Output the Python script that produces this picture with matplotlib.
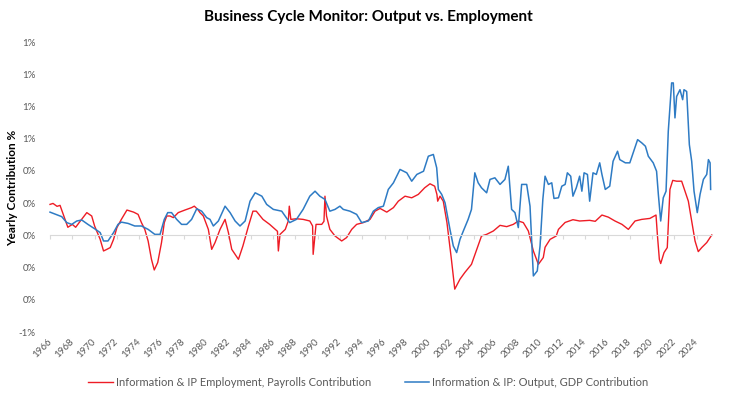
import matplotlib
matplotlib.use('Agg')
import matplotlib.pyplot as plt
import numpy as np

# Information & IP Employment, Payrolls Contribution (%)
emp_year = [1966.0, 1966.27, 1966.63, 1966.9, 1967.35, 1967.6, 1968.0, 1968.3, 1968.7, 1969.3,
            1969.74, 1970.0, 1970.5, 1970.8, 1971.1, 1971.4, 1971.7, 1972.0, 1972.4, 1972.9,
            1973.5, 1973.9, 1974.2, 1974.5, 1974.8, 1975.1, 1975.35, 1975.66, 1976.0, 1976.25,
            1976.47, 1976.76, 1977.06, 1977.5, 1978.1, 1978.7, 1978.94, 1979.25, 1979.45, 1979.75,
            1980.2, 1980.5, 1980.8, 1981.25, 1981.7, 1982.0, 1982.3, 1982.9, 1983.3, 1983.8,
            1984.2, 1984.5, 1985.1, 1985.7, 1986.2, 1986.4, 1986.48, 1986.63, 1987.1, 1987.37,
            1987.46, 1987.6, 1988.1, 1988.7, 1989.3, 1989.55, 1989.6, 1989.86, 1990.37, 1990.57,
            1990.66, 1990.8, 1991.1, 1991.56, 1992.16, 1992.6, 1993.06, 1993.5, 1994.1, 1994.7,
            1995.15, 1995.6, 1996.2, 1996.8, 1997.24, 1997.84, 1998.44, 1999.03, 1999.6, 2000.08,
            2000.5, 2000.7, 2000.77, 2000.98, 2001.27, 2001.6, 2002.0, 2002.3, 2002.77, 2003.2,
            2003.8, 2004.27, 2004.7, 2005.16, 2005.76, 2006.36, 2006.96, 2007.55, 2008.0, 2008.45,
            2008.9, 2009.35, 2009.8, 2010.24, 2010.4, 2010.85, 2011.4, 2011.6, 2012.2, 2012.9,
            2013.5, 2014.4, 2014.9, 2015.5, 2016.07, 2016.67, 2017.3, 2017.87, 2018.47, 2019.07,
            2019.8, 2020.35, 2020.47, 2020.65, 2020.77, 2021.07, 2021.36, 2021.6, 2021.85, 2022.2,
            2022.65, 2022.95, 2023.25, 2023.55, 2023.85, 2024.14, 2024.45, 2024.9, 2025.35]
emp_val = [0.192, 0.198, 0.18, 0.186, 0.099, 0.05, 0.068, 0.05, 0.087, 0.141,
           0.12, 0.058, -0.025, -0.097, -0.087, -0.076, -0.025, 0.048, 0.099, 0.157,
           0.144, 0.13, 0.079, 0.037, -0.035, -0.149, -0.215, -0.169, -0.045, 0.079,
           0.12, 0.12, 0.11, 0.141, 0.157, 0.172, 0.181, 0.161, 0.141, 0.12,
           0.037, -0.087, -0.045, 0.037, 0.099, 0.017, -0.087, -0.149, -0.066, 0.058,
           0.15, 0.15, 0.099, 0.068, 0.037, 0.025, -0.097, 0.006, 0.037, 0.089,
           0.181, 0.099, 0.103, 0.099, 0.089, 0.058, -0.118, 0.068, 0.068, 0.087,
           0.243, 0.12, 0.037, -0.004, -0.035, -0.014, 0.037, 0.068, 0.079, 0.099,
           0.15, 0.167, 0.144, 0.172, 0.212, 0.243, 0.233, 0.254, 0.295, 0.32,
           0.305, 0.254, 0.212, 0.243, 0.212, 0.079, -0.149, -0.334, -0.272, -0.231,
           -0.18, -0.087, -0.004, 0.006, 0.027, 0.062, 0.054, 0.068, 0.089, 0.079,
           0.027, -0.097, -0.18, -0.138, -0.074, -0.025, -0.004, 0.037, 0.08, 0.097,
           0.089, 0.093, 0.087, 0.126, 0.113, 0.089, 0.068, 0.037, 0.089, 0.099,
           0.105, 0.126, 0.006, -0.149, -0.175, -0.107, -0.076, 0.285, 0.341, 0.336,
           0.336, 0.274, 0.212, 0.089, -0.035, -0.101, -0.076, -0.045, 0.002]

# Information & IP: Output, GDP Contribution (%)
gdp_year = [1966.0, 1967.05, 1967.5, 1967.95, 1968.4, 1968.85, 1969.4, 1970.0, 1970.5, 1970.8,
            1971.2, 1971.7, 1972.1, 1972.4, 1973.0, 1973.6, 1974.2, 1974.8, 1975.4, 1975.87,
            1976.25, 1976.56, 1976.9, 1977.36, 1977.8, 1978.26, 1978.7, 1979.16, 1979.6, 1980.05,
            1980.35, 1980.65, 1981.1, 1981.7, 1982.15, 1982.6, 1983.04, 1983.5, 1983.94, 1984.4,
            1985.0, 1985.43, 1986.03, 1986.78, 1987.08, 1987.5, 1988.1, 1988.7, 1989.3, 1989.77,
            1990.2, 1990.66, 1991.1, 1991.56, 1992.0, 1992.3, 1992.9, 1993.5, 1993.95, 1994.55,
            1995.0, 1995.44, 1995.9, 1996.34, 1996.8, 1997.39, 1998.0, 1998.44, 1998.9, 1999.5,
            1999.93, 2000.38, 2000.68, 2000.83, 2001.13, 2001.43, 2001.87, 2002.17, 2002.47, 2002.77,
            2003.07, 2003.5, 2003.8, 2004.1, 2004.4, 2004.7, 2005.16, 2005.46, 2005.9, 2006.36,
            2006.8, 2007.1, 2007.4, 2007.7, 2008.0, 2008.3, 2008.75, 2009.05, 2009.35, 2009.7,
            2009.95, 2010.2, 2010.4, 2010.7, 2011.0, 2011.2, 2011.6, 2011.9, 2012.2, 2012.4,
            2012.7, 2012.9, 2013.2, 2013.5, 2013.7, 2013.9, 2014.2, 2014.4, 2014.7, 2015.0,
            2015.3, 2015.5, 2015.8, 2016.2, 2016.5, 2016.9, 2017.1, 2017.6, 2018.0, 2018.3,
            2018.7, 2019.07, 2019.4, 2019.66, 2020.1, 2020.4, 2020.56, 2020.77, 2021.0, 2021.25,
            2021.45, 2021.75, 2021.9, 2022.05, 2022.2, 2022.5, 2022.74, 2022.86, 2023.1, 2023.34,
            2023.55, 2023.76, 2024.05, 2024.3, 2024.6, 2024.9, 2025.05, 2025.2, 2025.25]
gdp_val = [0.144, 0.116, 0.079, 0.068, 0.089, 0.095, 0.068, 0.041, 0.017, -0.035,
           -0.035, 0.017, 0.068, 0.082, 0.074, 0.058, 0.058, 0.037, 0.006, 0.006,
           0.099, 0.141, 0.141, 0.099, 0.068, 0.068, 0.099, 0.165, 0.15, 0.11,
           0.099, 0.058, 0.089, 0.181, 0.141, 0.089, 0.058, 0.089, 0.212, 0.264,
           0.243, 0.192, 0.161, 0.15, 0.12, 0.079, 0.099, 0.161, 0.243, 0.274,
           0.243, 0.223, 0.15, 0.161, 0.181, 0.161, 0.15, 0.13, 0.079, 0.089,
           0.15, 0.172, 0.181, 0.285, 0.326, 0.409, 0.388, 0.336, 0.378, 0.398,
           0.491, 0.502, 0.419, 0.285, 0.254, 0.202, 0.037, -0.066, -0.107, -0.025,
           0.027, 0.099, 0.161, 0.388, 0.326, 0.295, 0.264, 0.347, 0.357, 0.316,
           0.347, 0.429, 0.161, 0.141, 0.048, 0.316, 0.316, 0.181, -0.252, -0.221,
           -0.066, 0.223, 0.367, 0.316, 0.326, 0.229, 0.233, 0.305, 0.316, 0.388,
           0.367, 0.243, 0.295, 0.367, 0.274, 0.388, 0.378, 0.212, 0.388, 0.378,
           0.45, 0.378, 0.285, 0.305, 0.46, 0.522, 0.47, 0.45, 0.45, 0.512,
           0.594, 0.574, 0.553, 0.491, 0.45, 0.398, 0.254, 0.089, 0.233, 0.274,
           0.646, 0.946, 0.946, 0.729, 0.862, 0.904, 0.842, 0.904, 0.893, 0.563,
           0.46, 0.274, 0.141, 0.254, 0.347, 0.378, 0.47, 0.45, 0.285]

year_ticks = list(range(1966, 2025, 2))
y_ticks = [-0.6, -0.4, -0.2, 0.0, 0.2, 0.4, 0.6, 0.8, 1.0, 1.2]
y_tick_labels = ['-1%', '0%', '0%', '0%', '0%', '0%', '1%', '1%', '1%', '1%']

plt.rcParams['font.family'] = ['Lato', 'DejaVu Sans']
grey = '#595959'

fig = plt.figure(figsize=(7.37, 3.99), dpi=100)
ax = fig.add_axes([48 / 737, 1 - 332 / 399, 666 / 737, 290 / 399])

ax.plot(emp_year, emp_val, color='#EE1C25', lw=1.0,
        label='Information & IP Employment, Payrolls Contribution')
ax.plot(gdp_year, gdp_val, color='#2E7BC4', lw=1.1,
        label='Information & IP: Output, GDP Contribution')

ax.set_xlim(1965.82, 1965.82 + 666 / 11.15)
ax.set_ylim(-0.6, 1.2)
ax.set_yticks(y_ticks)
ax.set_yticklabels(y_tick_labels)
ax.tick_params(axis='y', length=0, labelsize=7, labelcolor=grey, pad=9)

for s in ['top', 'right', 'left']:
    ax.spines[s].set_visible(False)
# zero line with year tick marks
ax.spines['bottom'].set_position(('data', 0))
ax.spines['bottom'].set_color('#D9D9D9')
ax.spines['bottom'].set_bounds(1966, 2025.35)
ax.set_xticks(year_ticks)
ax.tick_params(axis='x', length=3, color='#D9D9D9', labelbottom=False)

# year labels at the bottom of the plot area
sec = ax.secondary_xaxis('bottom')
sec.set_xticks(year_ticks)
sec.set_xticklabels([str(y) for y in year_ticks], rotation=45, ha='right',
                    va='center', rotation_mode='anchor')
sec.tick_params(length=0, labelsize=7, labelcolor=grey, pad=6)
sec.spines['bottom'].set_visible(False)

fig.text(13 / 737, 1 - 188 / 399, 'Yearly Contribution %', rotation=90,
         ha='center', va='center', fontsize=8.5, fontweight='bold')
fig.suptitle('Business Cycle Monitor: Output vs. Employment', fontsize=11,
             fontweight='bold', y=0.975)

fig.legend(loc='center', bbox_to_anchor=(0.5, 1 - 382 / 399), ncol=2, frameon=False,
           fontsize=8, labelcolor=grey, handlelength=2.2, handletextpad=0.3,
           columnspacing=3.0)

fig.savefig('out.png', dpi=100)
